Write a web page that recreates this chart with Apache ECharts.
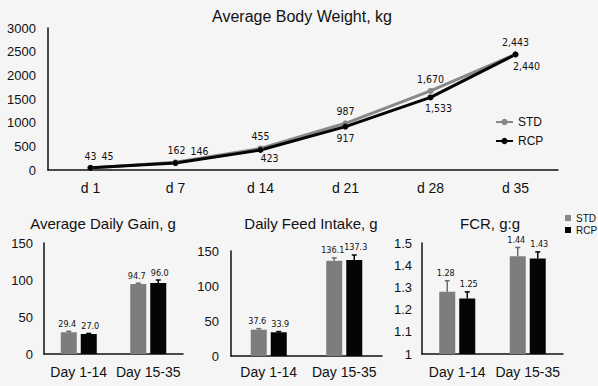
<!DOCTYPE html>
<html><head><meta charset="utf-8">
<script src="https://cdn.jsdelivr.net/npm/echarts@6/dist/echarts.min.js"></script>
<style>html,body{margin:0;padding:0;background:#f5f5f5}#c{width:598px;height:386px}</style>
</head><body><div id="c"></div>
<script>
// ---- data ----
const days = ['d 1','d 7','d 14','d 21','d 28','d 35'];
const bwSTD = [43,162,455,987,1670,2443];
const bwRCP = [45,146,423,917,1533,2440];
const periods = ['Day 1-14','Day 15-35'];
const adgSTD = [29.4,94.7], adgRCP = [27.0,96.0];
const adgErrSTD = [1.2,1.0], adgErrRCP = [0.8,4.0];
const dfiSTD = [37.6,136.1], dfiRCP = [33.9,137.3];
const dfiErrSTD = [1.5,4.0], dfiErrRCP = [1.0,7.0];
const fcrSTD = [1.28,1.44], fcrRCP = [1.25,1.43];
const fcrErrSTD = [0.05,0.04], fcrErrRCP = [0.03,0.03];

// ---- label offsets (layout only) ----
const stdLabelOffset = [[0,-12],[1,-12],[0,-12],[0,-12],[0,-12],[0,-12]];
const rcpLabelOffset = [[17,-12],[24,-12],[9,8],[0,11],[8,11],[11,11]];

const GRAY = '#7d7d7d', BLACK = '#050505';
const FONT = 'Liberation Sans, Arial, sans-serif';
const NARROW = '"Liberation Sans Narrow", "DejaVu Sans Condensed", "Liberation Sans", Arial, sans-serif';
const BW = 16, HALF = 10;

function lineData(vals, offs){
  return vals.map((v,i)=>({value:v,label:{offset:offs[i]}}));
}
function errData(vals, errs, side, dec){
  return vals.map((v,i)=>[i, v, errs[i], side, dec]);
}
function errRender(params, api){
  const cat = api.value(0), v = api.value(1), e = api.value(2), side = api.value(3), dec = api.value(4);
  const base = api.coord([cat, v]);
  const top = api.coord([cat, v + e]);
  const x = base[0] + (side ? HALF : -HALF);
  const col = side ? BLACK : '#6a6a6a';
  return {type:'group', children:[
    {type:'line', shape:{x1:x,y1:base[1],x2:x,y2:top[1]}, style:{stroke:col,lineWidth:1.5}},
    {type:'line', shape:{x1:x-2.5,y1:top[1],x2:x+2.5,y2:top[1]}, style:{stroke:col,lineWidth:1.5}},
    {type:'text', style:{text:v.toFixed(dec), x:x + (side ? 1.5 : -1.5), y:top[1]-3, textAlign:'center', textVerticalAlign:'bottom',
      font:'9px '+NARROW, fill:'#111'}}
  ]};
}

const grids = [
  {left:48, width:510, top:28, height:142},
  {left:44, width:139, top:243, height:111},
  {left:231, width:151, top:251, height:105},
  {left:422, width:141, top:243, height:111}
];
const axisLine = {show:true, lineStyle:{color:'#111', width:1.5}};
function xCat(gi, data, fs, margin){
  return {type:'category', gridIndex:gi, data:data, axisLine:axisLine, axisTick:{show:false},
    axisLabel:{color:'#111', fontSize:fs, fontFamily:FONT, margin:margin, interval:0}};
}
function yVal(gi, min, max, interval, margin){
  return {type:'value', gridIndex:gi, min:min, max:max, interval:interval, axisLine:axisLine, axisTick:{show:false},
    splitLine:{show:false}, axisLabel:{color:'#111', fontSize:13, fontFamily:FONT, margin:margin,
      formatter:v=>String(Math.round(v*10)/10)}};
}
function barSeries(name, gi, vals, color){
  return {name:name, type:'bar', xAxisIndex:gi, yAxisIndex:gi, data:vals, barWidth:BW, barGap:'25%',
    itemStyle:{color:color}, z:2};
}
function errSeries(gi, vals, errs, side, dec){
  return {type:'custom', xAxisIndex:gi, yAxisIndex:gi, data:errData(vals, errs, side, dec), renderItem:errRender, z:3, silent:true};
}

const option = {
  backgroundColor:'#f5f5f5',
  animation:false,
  title:[
    {text:'Average Body Weight, kg', left:297, top:3, textAlign:'center', textStyle:{fontSize:16, fontWeight:'normal', color:'#111', fontFamily:FONT}},
    {text:'Average Daily Gain, g', left:98, top:211, textAlign:'center', textStyle:{fontSize:15, fontWeight:'normal', color:'#111', fontFamily:FONT}},
    {text:'Daily Feed Intake, g', left:306, top:211, textAlign:'center', textStyle:{fontSize:15, fontWeight:'normal', color:'#111', fontFamily:FONT}},
    {text:'FCR, g:g', left:485, top:211, textAlign:'center', textStyle:{fontSize:15, fontWeight:'normal', color:'#111', fontFamily:FONT}}
  ],
  legend:[
    {data:['STD','RCP'], orient:'vertical', left:490, top:111, itemWidth:17, itemHeight:8, itemGap:7,
      textStyle:{fontSize:12, color:'#111', fontFamily:FONT}},
    {data:[{name:'STD',icon:'rect'},{name:'RCP',icon:'rect'}], orient:'vertical', left:560, top:208, itemWidth:6, itemHeight:6, itemGap:2,
      textStyle:{fontSize:10, color:'#111', fontFamily:FONT}}
  ],
  grid:grids,
  xAxis:[xCat(0, days, 14, 11), xCat(1, periods, 14, 11), xCat(2, periods, 14, 9), xCat(3, periods, 14, 11)],
  yAxis:[yVal(0,0,3000,500,12), yVal(1,0,150,50,11), yVal(2,0,150,50,12), yVal(3,1,1.5,0.1,10)],
  series:[
    {name:'STD', type:'line', xAxisIndex:0, yAxisIndex:0, data:lineData(bwSTD, stdLabelOffset),
      symbol:'circle', symbolSize:6, lineStyle:{color:'#888', width:3}, itemStyle:{color:'#888'},
      label:{show:true, position:'inside', fontSize:10.5, color:'#111', fontFamily:NARROW,
        formatter:p=>p.value.toLocaleString('en-US')}},
    {name:'RCP', type:'line', xAxisIndex:0, yAxisIndex:0, data:lineData(bwRCP, rcpLabelOffset),
      symbol:'circle', symbolSize:6, lineStyle:{color:BLACK, width:3}, itemStyle:{color:BLACK},
      label:{show:true, position:'inside', fontSize:10.5, color:'#111', fontFamily:NARROW,
        formatter:p=>p.value.toLocaleString('en-US')}},
    barSeries('STD',1,adgSTD,GRAY), barSeries('RCP',1,adgRCP,BLACK),
    barSeries('STD',2,dfiSTD,GRAY), barSeries('RCP',2,dfiRCP,BLACK),
    barSeries('STD',3,fcrSTD,GRAY), barSeries('RCP',3,fcrRCP,BLACK),
    errSeries(1,adgSTD,adgErrSTD,0,1), errSeries(1,adgRCP,adgErrRCP,1,1),
    errSeries(2,dfiSTD,dfiErrSTD,0,1), errSeries(2,dfiRCP,dfiErrRCP,1,1),
    errSeries(3,fcrSTD,fcrErrSTD,0,2), errSeries(3,fcrRCP,fcrErrRCP,1,2)
  ]
};
const chart = echarts.init(document.getElementById('c'), null, {renderer:'svg'});
chart.setOption(option);
</script></body></html>
